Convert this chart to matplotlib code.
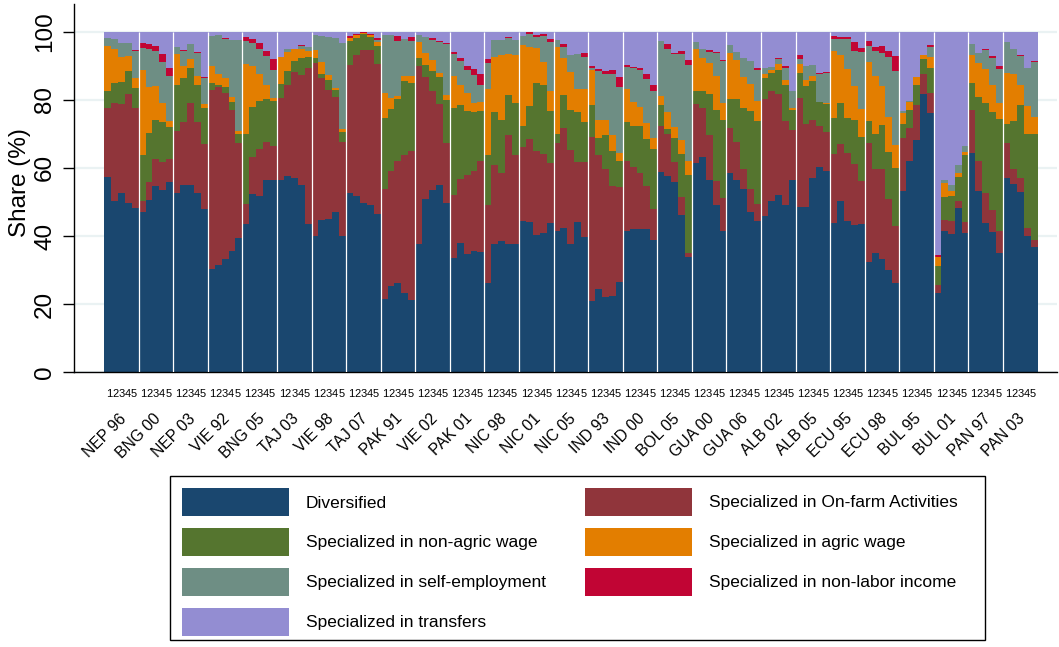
import numpy as np
import matplotlib
matplotlib.use("Agg")
import matplotlib.pyplot as plt
import matplotlib.transforms as mtransforms
from matplotlib.patches import Rectangle

plt.rcParams['font.family'] = ['Liberation Sans', 'DejaVu Sans']

# Survey labels (country + year), five income quintiles each
countries = ["NEP 96", "BNG 00", "NEP 03", "VIE 92", "BNG 05", "TAJ 03", "VIE 98",
             "TAJ 07", "PAK 91", "VIE 02", "PAK 01", "NIC 98", "NIC 01", "NIC 05",
             "IND 93", "IND 00", "BOL 05", "GUA 00", "GUA 06", "ALB 02", "ALB 05",
             "ECU 95", "ECU 98", "BUL 95", "BUL 01", "PAN 97", "PAN 03"]
quintiles = ["1", "2", "3", "4", "5"]

categories = ["Diversified", "Specialized in On-farm Activities",
              "Specialized in non-agric wage", "Specialized in agric wage",
              "Specialized in self-employment", "Specialized in non-labor income",
              "Specialized in transfers"]
colors = ["#1a476f", "#90353b", "#55752f", "#e37e00", "#6e8e84", "#c10534", "#938dd2"]

# Cumulative upper edge (%) of each category, one row of five quintiles per survey
top_diversified = [
    57.2, 50.3, 52.6, 49.8, 48.2,  47.1, 50.5, 54.7, 53.6, 55.8,  52.7, 54.9, 54.9, 52.7, 47.8,
    30.4, 31.6, 33.3, 35.5, 39.5,  43.4, 52.3, 51.8, 56.4, 56.4,  56.4, 57.5, 57.1, 54.9, 43.4,
    40.0, 44.6, 45.1, 47.1, 40.0,  52.6, 51.8, 49.7, 49.0, 46.6,  21.6, 25.3, 26.3, 23.2, 21.3,
    37.5, 50.8, 53.4, 55.1, 49.7,  33.6, 38.0, 34.8, 35.5, 35.3,  26.2, 37.5, 38.4, 37.5, 37.7,
    44.3, 44.1, 40.4, 41.0, 43.9,  41.5, 42.2, 37.7, 44.1, 39.7,  20.8, 24.3, 22.1, 22.3, 26.5,
    41.5, 41.9, 41.9, 42.0, 38.7,  58.8, 57.5, 55.9, 46.3, 33.8,  61.5, 63.2, 56.4, 49.0, 41.4,
    58.6, 56.4, 53.9, 47.1, 44.3,  45.9, 50.3, 52.0, 49.0, 56.4,  48.5, 48.5, 56.9, 60.3, 59.1,
    43.9, 50.3, 44.3, 43.1, 43.4,  32.4, 35.0, 33.3, 29.9, 26.2,  53.2, 62.1, 68.1, 81.6, 76.2,
    23.3, 41.5, 40.7, 48.2, 40.9,  64.4, 53.2, 43.8, 41.2, 35.1,  56.9, 55.2, 52.9, 39.9, 36.8]
top_onfarm = [
    77.5, 79.1, 78.7, 81.7, 77.5,  50.3, 55.9, 62.7, 61.8, 62.5,  70.9, 73.5, 79.2, 73.5, 67.0,
    83.0, 83.8, 81.9, 77.0, 67.2,  49.5, 63.2, 65.5, 67.6, 66.5,  80.6, 84.5, 88.2, 87.3, 89.4,
    90.9, 86.3, 82.8, 80.9, 67.6,  90.2, 93.1, 94.6, 94.6, 90.7,  53.7, 59.1, 62.0, 63.9, 64.9,
    90.0, 86.8, 82.6, 78.7, 67.2,  52.0, 56.7, 57.8, 59.1, 62.0,  49.2, 60.8, 58.5, 69.6, 63.9,
    66.2, 68.6, 64.9, 64.0, 61.5,  67.2, 71.6, 65.2, 61.8, 61.8,  69.1, 63.9, 59.6, 54.6, 54.4,
    62.0, 60.3, 58.5, 54.7, 47.8,  72.3, 70.1, 61.8, 51.5, 35.0,  78.9, 77.5, 69.6, 56.2, 51.2,
    71.8, 67.6, 59.6, 53.9, 49.5,  80.2, 82.5, 81.6, 73.7, 71.1,  80.6, 73.0, 74.2, 72.4, 70.6,
    64.0, 66.9, 64.5, 61.3, 56.1,  67.4, 59.6, 59.8, 50.8, 42.9,  68.8, 71.8, 78.4, 87.5, 81.9,
    25.7, 44.6, 44.3, 50.3, 44.1,  77.0, 62.1, 52.6, 47.5, 41.5,  67.2, 59.8, 56.9, 42.4, 38.9]
top_nonagric = [
    82.6, 85.1, 85.3, 88.5, 83.6,  63.7, 70.3, 74.2, 73.5, 71.9,  84.3, 86.3, 89.4, 84.3, 77.6,
    85.0, 84.5, 83.8, 79.4, 70.1,  70.1, 77.9, 79.6, 80.2, 79.6,  84.6, 88.5, 91.4, 92.2, 92.5,
    92.2, 87.5, 85.8, 82.8, 70.6,  97.3, 98.3, 99.3, 98.5, 95.9,  74.7, 77.3, 80.2, 85.5, 85.1,
    92.4, 90.2, 88.5, 86.6, 79.9,  77.5, 78.4, 76.7, 76.3, 76.7,  63.9, 76.5, 74.0, 81.4, 79.2,
    72.4, 78.2, 85.0, 84.3, 76.7,  70.1, 81.4, 77.0, 76.5, 73.5,  78.6, 68.8, 69.6, 64.9, 62.0,
    73.5, 72.3, 72.3, 68.4, 65.5,  78.4, 71.4, 68.9, 64.0, 57.8,  82.6, 82.6, 81.6, 77.0, 74.0,
    80.2, 80.2, 77.5, 76.7, 73.7,  86.3, 87.9, 88.9, 84.5, 77.0,  87.9, 84.0, 85.5, 79.4, 78.9,
    74.7, 79.0, 74.8, 74.1, 69.2,  73.8, 70.0, 72.5, 64.7, 60.0,  72.8, 76.9, 84.5, 91.9, 89.4,
    31.1, 51.5, 51.7, 57.4, 63.7,  85.0, 80.9, 79.2, 76.3, 74.5,  72.8, 73.7, 78.6, 70.1, 70.1]
top_agric = [
    95.9, 95.1, 92.5, 92.8, 86.3,  88.7, 83.8, 84.1, 79.1, 73.7,  93.6, 90.0, 91.9, 87.0, 78.9,
    90.0, 87.7, 86.3, 80.9, 70.8,  90.7, 90.0, 87.5, 84.5, 80.6,  92.5, 94.1, 94.9, 95.1, 94.4,
    94.8, 91.2, 87.3, 83.5, 71.4,  98.3, 99.0, 99.6, 99.0, 97.1,  82.1, 80.6, 81.1, 87.1, 87.1,
    96.9, 93.9, 91.7, 88.0, 81.4,  87.1, 84.3, 82.1, 79.1, 79.4,  83.1, 92.5, 93.1, 93.4, 93.1,
    96.1, 95.6, 95.3, 91.2, 82.5,  95.6, 92.2, 88.2, 83.1, 83.1,  88.7, 74.2, 74.2, 69.8, 64.5,
    83.1, 79.4, 77.9, 73.3, 68.8,  81.1, 76.5, 72.1, 68.3, 62.0,  95.1, 92.4, 90.8, 87.1, 79.2,
    93.9, 91.6, 86.8, 84.8, 79.6,  87.5, 88.7, 90.7, 85.8, 77.6,  90.7, 85.8, 87.0, 79.4, 79.1,
    94.4, 93.2, 89.0, 84.2, 77.4,  91.0, 87.0, 84.0, 75.0, 66.7,  76.2, 79.4, 86.6, 93.1, 92.5,
    33.8, 55.7, 53.2, 58.5, 64.7,  93.3, 90.9, 89.2, 84.3, 79.1,  87.9, 87.7, 84.3, 78.2, 75.0]
top_selfemp = [
    98.2, 97.8, 96.6, 96.8, 94.4,  95.3, 94.9, 94.3, 91.2, 87.1,  95.6, 94.3, 96.4, 93.9, 86.5,
    98.8, 99.0, 98.0, 97.5, 97.5,  97.3, 96.6, 95.1, 92.9, 88.9,  92.5, 94.9, 95.1, 95.9, 95.6,
    99.2, 98.7, 98.5, 98.3, 96.6,  98.3, 99.0, 99.6, 99.0, 97.5,  99.0, 99.0, 97.3, 98.0, 97.3,
    99.0, 98.5, 97.5, 96.9, 96.4,  93.4, 91.5, 88.9, 87.3, 84.5,  90.9, 97.5, 97.5, 98.3, 97.5,
    98.8, 99.5, 98.5, 98.8, 96.9,  97.5, 95.6, 93.2, 93.6, 92.6,  89.4, 88.4, 87.7, 87.5, 83.8,
    89.7, 89.4, 88.7, 86.1, 82.5,  97.3, 95.1, 93.6, 93.6, 90.4,  96.9, 94.9, 94.1, 93.8, 91.4,
    96.1, 94.1, 92.2, 91.4, 88.7,  89.5, 89.7, 91.9, 89.4, 82.6,  91.9, 90.0, 90.4, 87.5, 87.9,
    98.0, 97.8, 97.8, 94.5, 94.2,  95.9, 94.3, 93.8, 92.5, 88.5,  76.8, 79.8, 86.6, 93.1, 95.6,
    33.8, 56.4, 54.9, 60.8, 66.4,  96.4, 93.9, 94.6, 92.2, 89.2,  97.1, 94.9, 92.9, 89.4, 91.0]
top_nonlabor = [
    98.2, 97.8, 96.6, 96.8, 94.8,  96.8, 96.3, 95.9, 93.6, 89.4,  95.6, 94.6, 96.4, 94.1, 86.8,
    98.8, 99.0, 98.3, 97.5, 97.5,  98.5, 97.8, 96.6, 94.3, 91.9,  92.5, 94.9, 95.1, 96.1, 95.6,
    99.2, 98.7, 98.5, 98.3, 96.8,  98.7, 99.3, 99.9, 99.3, 98.2,  99.0, 99.0, 98.7, 98.0, 98.5,
    99.0, 98.5, 98.3, 97.3, 96.8,  94.1, 92.4, 89.9, 89.0, 87.7,  92.0, 97.5, 97.5, 98.5, 97.5,
    98.8, 100.0, 99.2, 99.5, 98.0, 97.5, 96.3, 93.2, 93.6, 93.9,  89.9, 89.2, 88.4, 88.9, 86.8,
    90.4, 89.7, 89.5, 87.5, 84.5,  97.3, 96.3, 93.9, 94.3, 91.7,  96.9, 94.9, 94.6, 94.1, 91.7,
    96.1, 94.1, 92.2, 91.4, 89.4,  89.5, 89.7, 92.4, 89.9, 82.6,  93.1, 90.0, 90.4, 87.9, 88.2,
    98.7, 98.4, 98.4, 97.0, 95.2,  97.3, 95.6, 95.8, 94.3, 92.8,  76.8, 79.8, 86.6, 93.1, 96.1,
    34.3, 56.4, 54.9, 60.8, 66.4,  96.4, 93.9, 95.1, 92.8, 89.9,  97.1, 94.9, 93.1, 89.4, 91.4]

n_groups = len(countries)
n_q = len(quintiles)
n_bars = n_groups * n_q
tops = np.array([top_diversified, top_onfarm, top_nonagric, top_agric,
                 top_selfemp, top_nonlabor, [100.0] * n_bars])
tops = np.maximum.accumulate(tops, axis=0)
bottoms = np.vstack([np.zeros(n_bars), tops[:-1]])
shares = tops - bottoms

# Figure, laid out in pixels of the 1059x647 target
W, H = 1059, 647
fig = plt.figure(figsize=(W / 100, H / 100), dpi=100)
ax = fig.add_axes([74.3 / W, (H - 372) / H, (1057 - 74.3) / W, (372 - 4) / H])

x = np.arange(n_bars)
for i in range(len(categories)):
    ax.bar(x, shares[i], bottom=bottoms[i], width=1.0, color=colors[i],
           linewidth=0, zorder=2)

# thin white line between surveys
ax.vlines(np.arange(1, n_groups) * n_q - 0.5, 0, 100, color="white",
          linewidth=0.9, zorder=3)

ax.set_xlim(-4.8, 137.3)
ax.set_ylim(0, 108.2)
ax.set_yticks(range(0, 101, 20))
ax.yaxis.grid(True, color="#eaf2f3", linewidth=1.6, zorder=0)
ax.set_axisbelow(True)
for s in ["top", "right"]:
    ax.spines[s].set_visible(False)
for s in ["left", "bottom"]:
    ax.spines[s].set_linewidth(1.0)

ax.tick_params(axis="y", length=8, width=1, pad=5, labelsize=17.5)
plt.setp(ax.get_yticklabels(), rotation=90, va="center")

# quintile digit under each bar (packed a little), survey names below
group_centers = np.arange(n_groups) * n_q + 2
q_offsets = (np.arange(n_q) - 2) * 0.9
ax.xaxis.remove_overlapping_locs = False
ax.set_xticks((group_centers[:, None] + q_offsets[None, :]).ravel(), minor=True)
ax.set_xticklabels(quintiles * n_groups, minor=True)
ax.set_xticks(group_centers)
ax.set_xticklabels(countries)
ax.tick_params(axis="x", which="minor", length=0, pad=12, labelsize=8)
ax.tick_params(axis="x", which="major", length=0, pad=28, labelsize=11.3)
shift = mtransforms.ScaledTranslation(-3 / 100, 0, fig.dpi_scale_trans)
for lab in ax.get_xticklabels():
    lab.set_rotation(45)
    lab.set_ha("right")
    lab.set_rotation_mode("anchor")
    lab.set_transform(lab.get_transform() + shift)

fig.text(20 / W, 1 - 183 / H, "Share (%)", rotation=90, ha="center", va="center",
         fontsize=17.5)

# Legend box drawn in pixel coordinates
lax = fig.add_axes([0, 0, 1, 1])
lax.set_xlim(0, W)
lax.set_ylim(H, 0)
lax.axis("off")
lax.add_patch(Rectangle((170, 476), 815, 164, facecolor="white", edgecolor="black",
                        linewidth=1.0))
for i, (lab, col) in enumerate(zip(categories, colors)):
    row, c = divmod(i, 2)
    x0 = 182 if c == 0 else 585
    yc = 502 + row * 40
    lax.add_patch(Rectangle((x0, yc - 14), 107, 28, facecolor=col, linewidth=0))
    lax.text(x0 + 124, yc + 1, lab, ha="left", va="center", fontsize=12.5)

fig.savefig("out.png", dpi=100)
